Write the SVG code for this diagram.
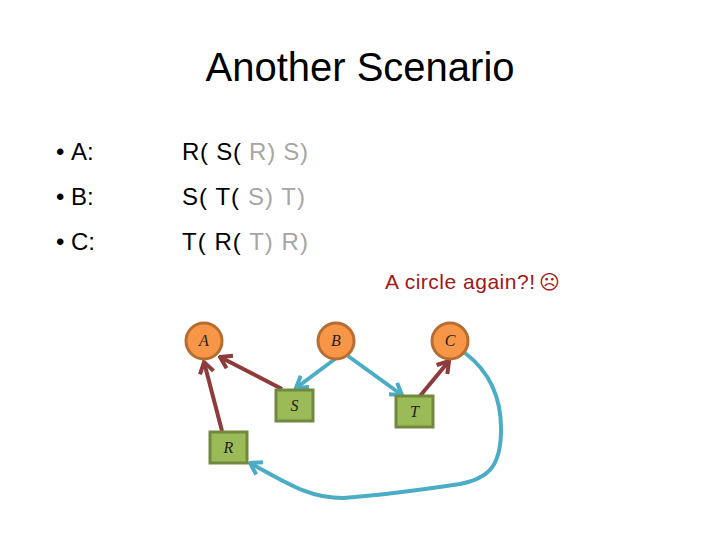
<svg xmlns="http://www.w3.org/2000/svg" width="720" height="540" viewBox="0 0 720 540">
<defs>
<style>
.title{font-family:"Liberation Sans",Arial,sans-serif;font-size:40px;fill:#000}
.body{font-family:"Liberation Sans",Arial,sans-serif;font-size:24px;fill:#000}
.gray{fill:#A6A6A6}
.note{font-family:"Liberation Sans",Arial,sans-serif;font-size:21px;fill:#A01818}
.face{font-family:"DejaVu Sans",sans-serif;font-size:20px;fill:#A01818}
.circ{fill:#F79646;stroke:#B66D31;stroke-width:3}
.box{fill:#9BBB59;stroke:#71893F;stroke-width:3}
.lbl{font-family:"Liberation Serif","Times New Roman",serif;font-style:italic;font-size:16px;fill:#222;text-anchor:middle}
.red{fill:none;stroke:#8E3B3B;stroke-width:4;marker-end:url(#ar)}
.blue{fill:none;stroke:#4BACC6;stroke-width:4;marker-end:url(#ab)}
</style>
<marker id="ar" markerUnits="userSpaceOnUse" viewBox="-14 -9 16 18" markerWidth="16" markerHeight="18" refX="0" refY="0" orient="auto">
<path d="M-11,-7 L0,0 L-11,7" fill="none" stroke="#8E3B3B" stroke-width="4"/>
</marker>
<marker id="ab" markerUnits="userSpaceOnUse" viewBox="-14 -9 16 18" markerWidth="16" markerHeight="18" refX="0" refY="0" orient="auto">
<path d="M-11,-7 L0,0 L-11,7" fill="none" stroke="#4BACC6" stroke-width="4"/>
</marker>
</defs>
<rect width="720" height="540" fill="#fff"/>
<text class="title" x="360" y="81" text-anchor="middle">Another Scenario</text>
<g id="bullets">
<text class="body" x="56" y="160">•</text>
<text class="body" x="56" y="205">•</text>
<text class="body" x="56" y="250">•</text>
<text class="body" x="71" y="160">A:</text>
<text class="body" x="71" y="205">B:</text>
<text class="body" x="71" y="250">C:</text>
<text class="body" x="182" y="160" textLength="126">R( S( <tspan class="gray">R) S)</tspan></text>
<text class="body" x="182" y="205" textLength="123">S( T( <tspan class="gray">S) T)</tspan></text>
<text class="body" x="182" y="250" textLength="126">T( R( <tspan class="gray">T) R)</tspan></text>
</g>
<text class="note" x="385" y="289" textLength="150">A circle again?!</text>
<text class="face" x="539" y="289">☹</text>
<g id="connectors">
<line class="red" x1="282" y1="389" x2="220" y2="357"/>
<line class="red" x1="222" y1="431" x2="204" y2="362"/>
<line class="blue" x1="335" y1="359" x2="296" y2="388"/>
<line class="blue" x1="348" y1="356" x2="402" y2="395"/>
<line class="red" x1="420" y1="396" x2="449" y2="361"/>
<path class="blue" d="M465,353 C490,372 502,400 501,433 C500,465 490,478 460,484 C420,490 370,496 343,498 C310,498 290,485 250,463"/>
</g>
<g id="node-A"><circle class="circ" cx="204" cy="341" r="18"/><text class="lbl" x="204" y="346">A</text></g>
<g id="node-B"><circle class="circ" cx="336" cy="341" r="18"/><text class="lbl" x="336" y="346">B</text></g>
<g id="node-C"><circle class="circ" cx="450" cy="341" r="18"/><text class="lbl" x="450" y="346">C</text></g>
<g id="node-S"><rect class="box" x="276" y="390" width="37" height="31"/><text class="lbl" x="294.5" y="411">S</text></g>
<g id="node-T"><rect class="box" x="396" y="396" width="37" height="31"/><text class="lbl" x="414.5" y="417">T</text></g>
<g id="node-R"><rect class="box" x="210" y="432" width="37" height="31"/><text class="lbl" x="228.5" y="453">R</text></g>
</svg>
